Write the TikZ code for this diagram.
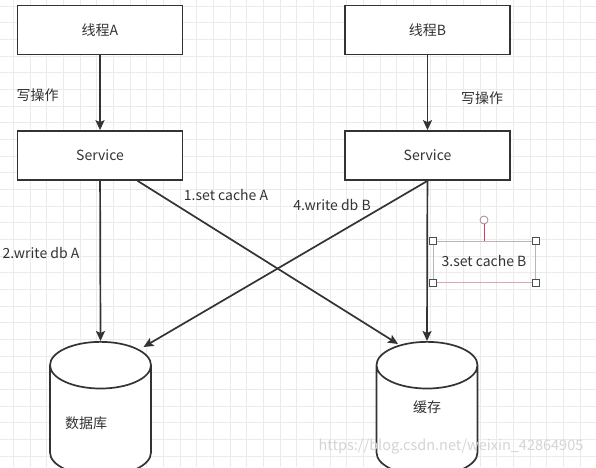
\documentclass[tikz,border=0pt]{standalone}
\usepackage{fontspec}
\setmainfont{Noto Sans CJK SC}
\usetikzlibrary{shapes.geometric,arrows.meta,calc}
\definecolor{ink}{HTML}{333333}
\definecolor{gridc}{HTML}{EBEBEB}
\definecolor{selc}{HTML}{C9AEB6}
\definecolor{stemc}{HTML}{A05566}
\definecolor{markc}{HTML}{D4D4D4}
\begin{document}
\begin{tikzpicture}[
		x=1pt, y=-1pt,
		every node/.style={font=\fontsize{14}{16}\selectfont, text=ink},
		box/.style={draw=ink, line width=1.7pt, fill=white, minimum width=165pt, minimum height=49pt},
		cyl/.style={draw=ink, line width=1.7pt, fill=white, cylinder, shape border rotate=90, aspect=7, minimum width=101pt, minimum height=134pt},
		arr/.style={draw=ink, line width=1.7pt, -{Stealth[length=10pt, width=9pt, inset=2pt]}},
		handle/.style={draw=black!70, fill=white, line width=0.6pt, minimum size=7pt, inner sep=0pt}
		]
		
		\useasboundingbox (0,0) rectangle (596,467);
		\fill[white] (0,0) rectangle (596,467);
		\foreach \i in {0,...,35} {
			\draw[gridc, line width=0.6pt] (13.3+16.67*\i,0) -- (13.3+16.67*\i,467);
		}
		\foreach \j in {0,...,27} {
			\draw[gridc, line width=0.6pt] (0,6+16.67*\j) -- (596,6+16.67*\j);
		}
		
		% threads and services
		\node[box] (tA) at (100,30) {线程A};
		\node[box] (tB) at (427.5,30) {线程B};
		\node[box] (sA) at (100,155.5) {Service};
		\node[box] (sB) at (427.5,155.5) {Service};
		
		% storage
		\node[cyl, anchor=top] (db) at (100.5,341) {};
		\node[cyl, anchor=top] (cache) at (427,341) {};
		\node (dbtxt) at (86,423) {数据库};
		\node (cachetxt) at (427,407) {缓存};
		
		% connectors
		\draw[arr] (tA) -- (sA);
		\draw[arr] (tB) -- (sB);
		\draw[arr] (sA) -- (db.top);
		\draw[arr] (sB) -- (cache.top);
		\draw[arr] (sA.-34) -- ($(cache.top)+(-29,3)$);
		\draw[arr] (sB.south) -- ($(db.top)+(43,6)$);
		
		% labels
		\node (wA) at (37.5,95) {写操作};
		\node (wB) at (482,98) {写操作};
		\node (l1) at (226,195) {1.set cache A};
		\node (l2) at (41,253) {2.write db A};
		\node (l4) at (332,205) {4.write db B};
		
		% selected label
		\node[draw=selc, line width=0.8pt, minimum width=102pt, minimum height=41pt] (l3) at (484,261.5) {3.set cache B};
		\node[draw=selc!80!black, line width=0.8pt, circle, minimum size=8pt, inner sep=0pt] (rot) at (484,220) {};
		\draw[stemc, line width=0.8pt] (rot) -- (l3.north);
		\foreach \c in {north west, north east, south west, south east} {
			\node[handle] at (l3.\c) {};
		}
		
		\node[text=markc, font=\fontsize{14.5}{16}\selectfont] (mark) at (451,447) {https://blog.csdn.net/weixin\_42864905};
		
	\end{tikzpicture}
\end{document}
